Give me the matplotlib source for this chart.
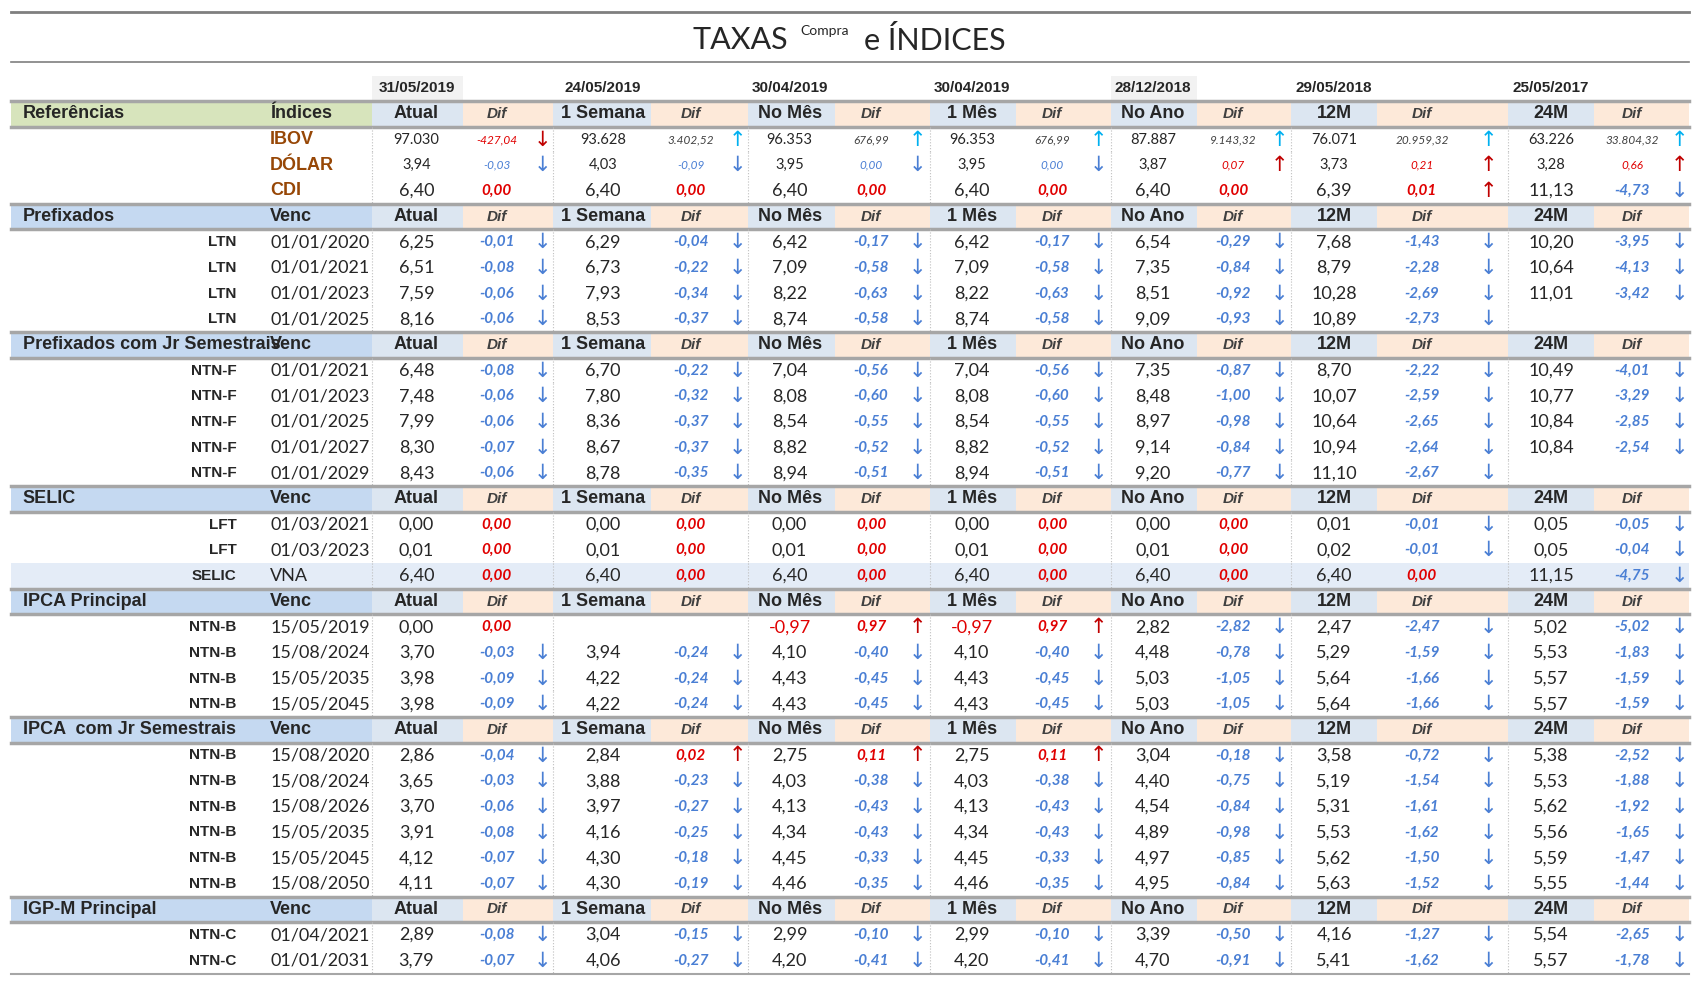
import matplotlib
matplotlib.use('Agg')
import matplotlib.pyplot as plt
from matplotlib.patches import Rectangle

# column headers
dates = ['31/05/2019', '24/05/2019', '30/04/2019', '30/04/2019', '28/12/2018', '29/05/2018', '25/05/2017']
periods = ['Atual', '1 Semana', 'No Mês', '1 Mês', 'No Ano', '12M', '24M']

# reference indices: (name, [(value, dif, arrow)])
ref_rows = [
    ('IBOV', [('97.030', '-427,04', 'd'), ('93.628', '3.402,52', 'u'), ('96.353', '676,99', 'u'),
              ('96.353', '676,99', 'u'), ('87.887', '9.143,32', 'u'), ('76.071', '20.959,32', 'u'),
              ('63.226', '33.804,32', 'u')]),
    ('DÓLAR', [('3,94', '-0,03', 'd'), ('4,03', '-0,09', 'd'), ('3,95', '0,00', 'd'), ('3,95', '0,00', 'd'),
               ('3,87', '0,07', 'u'), ('3,73', '0,21', 'u'), ('3,28', '0,66', 'u')]),
    ('CDI', [('6,40', '0,00', ''), ('6,40', '0,00', ''), ('6,40', '0,00', ''), ('6,40', '0,00', ''),
             ('6,40', '0,00', ''), ('6,39', '0,01', 'u'), ('11,13', '-4,73', 'd')]),
]

# sections: (title, [(papel, venc, "v d v d ...")]) ; '-' marks an empty cell
sections = [
    ('Prefixados', [
        ('LTN', '01/01/2020', '6,25 -0,01 6,29 -0,04 6,42 -0,17 6,42 -0,17 6,54 -0,29 7,68 -1,43 10,20 -3,95'),
        ('LTN', '01/01/2021', '6,51 -0,08 6,73 -0,22 7,09 -0,58 7,09 -0,58 7,35 -0,84 8,79 -2,28 10,64 -4,13'),
        ('LTN', '01/01/2023', '7,59 -0,06 7,93 -0,34 8,22 -0,63 8,22 -0,63 8,51 -0,92 10,28 -2,69 11,01 -3,42'),
        ('LTN', '01/01/2025', '8,16 -0,06 8,53 -0,37 8,74 -0,58 8,74 -0,58 9,09 -0,93 10,89 -2,73 - -'),
    ]),
    ('Prefixados com Jr Semestrais', [
        ('NTN-F', '01/01/2021', '6,48 -0,08 6,70 -0,22 7,04 -0,56 7,04 -0,56 7,35 -0,87 8,70 -2,22 10,49 -4,01'),
        ('NTN-F', '01/01/2023', '7,48 -0,06 7,80 -0,32 8,08 -0,60 8,08 -0,60 8,48 -1,00 10,07 -2,59 10,77 -3,29'),
        ('NTN-F', '01/01/2025', '7,99 -0,06 8,36 -0,37 8,54 -0,55 8,54 -0,55 8,97 -0,98 10,64 -2,65 10,84 -2,85'),
        ('NTN-F', '01/01/2027', '8,30 -0,07 8,67 -0,37 8,82 -0,52 8,82 -0,52 9,14 -0,84 10,94 -2,64 10,84 -2,54'),
        ('NTN-F', '01/01/2029', '8,43 -0,06 8,78 -0,35 8,94 -0,51 8,94 -0,51 9,20 -0,77 11,10 -2,67 - -'),
    ]),
    ('SELIC', [
        ('LFT', '01/03/2021', '0,00 0,00 0,00 0,00 0,00 0,00 0,00 0,00 0,00 0,00 0,01 -0,01 0,05 -0,05'),
        ('LFT', '01/03/2023', '0,01 0,00 0,01 0,00 0,01 0,00 0,01 0,00 0,01 0,00 0,02 -0,01 0,05 -0,04'),
        ('SELIC', 'VNA', '6,40 0,00 6,40 0,00 6,40 0,00 6,40 0,00 6,40 0,00 6,40 0,00 11,15 -4,75'),
    ]),
    ('IPCA Principal', [
        ('NTN-B', '15/05/2019', '0,00 0,00 - - -0,97 0,97 -0,97 0,97 2,82 -2,82 2,47 -2,47 5,02 -5,02'),
        ('NTN-B', '15/08/2024', '3,70 -0,03 3,94 -0,24 4,10 -0,40 4,10 -0,40 4,48 -0,78 5,29 -1,59 5,53 -1,83'),
        ('NTN-B', '15/05/2035', '3,98 -0,09 4,22 -0,24 4,43 -0,45 4,43 -0,45 5,03 -1,05 5,64 -1,66 5,57 -1,59'),
        ('NTN-B', '15/05/2045', '3,98 -0,09 4,22 -0,24 4,43 -0,45 4,43 -0,45 5,03 -1,05 5,64 -1,66 5,57 -1,59'),
    ]),
    ('IPCA  com Jr Semestrais', [
        ('NTN-B', '15/08/2020', '2,86 -0,04 2,84 0,02 2,75 0,11 2,75 0,11 3,04 -0,18 3,58 -0,72 5,38 -2,52'),
        ('NTN-B', '15/08/2024', '3,65 -0,03 3,88 -0,23 4,03 -0,38 4,03 -0,38 4,40 -0,75 5,19 -1,54 5,53 -1,88'),
        ('NTN-B', '15/08/2026', '3,70 -0,06 3,97 -0,27 4,13 -0,43 4,13 -0,43 4,54 -0,84 5,31 -1,61 5,62 -1,92'),
        ('NTN-B', '15/05/2035', '3,91 -0,08 4,16 -0,25 4,34 -0,43 4,34 -0,43 4,89 -0,98 5,53 -1,62 5,56 -1,65'),
        ('NTN-B', '15/05/2045', '4,12 -0,07 4,30 -0,18 4,45 -0,33 4,45 -0,33 4,97 -0,85 5,62 -1,50 5,59 -1,47'),
        ('NTN-B', '15/08/2050', '4,11 -0,07 4,30 -0,19 4,46 -0,35 4,46 -0,35 4,95 -0,84 5,63 -1,52 5,55 -1,44'),
    ]),
    ('IGP-M Principal', [
        ('NTN-C', '01/04/2021', '2,89 -0,08 3,04 -0,15 2,99 -0,10 2,99 -0,10 3,39 -0,50 4,16 -1,27 5,54 -2,65'),
        ('NTN-C', '01/01/2031', '3,79 -0,07 4,06 -0,27 4,20 -0,41 4,20 -0,41 4,70 -0,91 5,41 -1,62 5,57 -1,78'),
    ]),
]

# layout (drawing units: 1560 x 905 canvas)
W, H = 1560, 905
val_x = [384, 556, 728, 896, 1063, 1230, 1430]
dif_x = [458, 637, 803, 970, 1137, 1311, 1505]
arr_x = [500, 680, 846, 1013, 1180, 1372, 1548]
blk_l = [343, 510, 690, 857, 1024, 1190, 1390]
blk_r = blk_l[1:] + [1557]
val_w = [84, 90, 80, 80, 80, 80, 80]
ROW0, DY = 105, 23.65
LEFT = 10

FONT = 'Liberation Sans'
NUMF = 'Lato'
BLUE = '#4a7fd4'
RED = '#e00000'
DARKRED = '#c00000'
CYAN = '#00b0f0'
HEADGRAY = '#262626'

fig = plt.figure(figsize=(16.92, 9.82), dpi=100)
ax = fig.add_axes([0, 0, 1, 1])
ax.set_xlim(0, W)
ax.set_ylim(H, 0)
ax.axis('off')

# title block
ax.plot([LEFT, 1557], [11, 11], color='#7f7f7f', lw=2)
ax.plot([LEFT, 1557], [57, 57], color='#7f7f7f', lw=1.2)
ax.text(683, 37, 'TAXAS', ha='center', va='center', fontsize=22, family=NUMF, color='#262626')
ax.text(760, 29, 'Compra', ha='center', va='center', fontsize=10, family=NUMF, color='#262626')
ax.text(862, 37, 'e ÍNDICES', ha='center', va='center', fontsize=22, family=NUMF, color='#262626')

# date row
for i, d in enumerate(dates):
    if i in (0, 4):
        ax.add_patch(Rectangle((blk_l[i], 70), val_w[i], 22, color='#f2f2f2', lw=0))
    ax.text(val_x[i], 81, d, ha='center', va='center', fontsize=11, family=FONT,
            weight='bold', color=HEADGRAY)


def header_row(y, title, sub, green=False):
    top, bot = y - DY / 2, y + DY / 2
    cell = Rectangle((LEFT, top), 245 - LEFT, DY, transform=ax.transData)
    ax.add_patch(Rectangle((LEFT, top), blk_l[0] - LEFT, DY, color='#d7e4bc' if green else '#c5d9f1', lw=0))
    for i in range(7):
        ax.add_patch(Rectangle((blk_l[i], top), val_w[i], DY, color='#dce6f1', lw=0))
        ax.add_patch(Rectangle((blk_l[i] + val_w[i], top), blk_r[i] - blk_l[i] - val_w[i], DY,
                               color='#fde9d9', lw=0))
        ax.text(val_x[i], y, periods[i], ha='center', va='center', fontsize=13, family=FONT,
                weight='bold', color=HEADGRAY)
        ax.text(dif_x[i], y, 'Dif', ha='center', va='center', fontsize=11, family=FONT,
                weight='bold', style='italic', color='#404040')
    t = ax.text(21, y, title, ha='left', va='center', fontsize=13, family=FONT, weight='bold', color=HEADGRAY)
    t.set_clip_path(cell)
    ax.text(249, y, sub, ha='left', va='center', fontsize=13, family=FONT, weight='bold', color=HEADGRAY)
    ax.plot([LEFT, 1557], [top, top], color='#a6a6a6', lw=2.5)
    ax.plot([LEFT, 1557], [bot, bot], color='#a6a6a6', lw=2.5)


def arrow(x, y, kind, color):
    ax.text(x, y, '↑' if kind == 'u' else '↓', ha='center', va='center', fontsize=15,
            family='DejaVu Sans', color=color)


def vlines(y):
    for xb in blk_l:
        ax.plot([xb, xb], [y - DY / 2, y + DY / 2], color='#bfbfbf', lw=0.8, ls=':')


# references block
header_row(ROW0, 'Referências', 'Índices', green=True)
for r, (name, cells) in enumerate(ref_rows):
    y = ROW0 + (r + 1) * DY
    vlines(y)
    ax.text(249, y, name, ha='left', va='center', fontsize=13, family=FONT, weight='bold', color='#974706')
    small = name != 'CDI'
    for i, (v, d, a) in enumerate(cells):
        ax.text(val_x[i], y, v, ha='center', va='center', fontsize=10.5 if small else 13,
                family=NUMF, color='#262626')
        neg = d.startswith('-')
        if small:
            dc = (RED if neg else '#404040') if name == 'IBOV' else (BLUE if neg or d == '0,00' else RED)
            ax.text(dif_x[i], y, d, ha='center', va='center', fontsize=8.5, family=NUMF,
                    style='italic', color=dc)
        else:
            ax.text(dif_x[i], y, d, ha='center', va='center', fontsize=11, family=NUMF,
                    style='italic', weight='bold', color=BLUE if neg else RED)
        if a:
            if name == 'IBOV':
                ac = DARKRED if a == 'd' else CYAN
            else:
                ac = BLUE if a == 'd' else DARKRED
            arrow(arr_x[i], y, a, ac)

# sections
row = len(ref_rows) + 1
for title, rows in sections:
    header_row(ROW0 + row * DY, title, 'Venc')
    row += 1
    for papel, venc, vals in rows:
        y = ROW0 + row * DY
        if venc == 'VNA':
            ax.add_patch(Rectangle((LEFT, y - DY / 2), 1557 - LEFT, DY, color='#e4ecf7', lw=0))
        vlines(y)
        ax.text(218, y, papel, ha='right', va='center', fontsize=11, family=FONT, weight='bold', color=HEADGRAY)
        ax.text(249, y, venc, ha='left', va='center', fontsize=13, family=NUMF, color='#262626')
        parts = vals.split()
        for i in range(7):
            v, d = parts[2 * i], parts[2 * i + 1]
            if v == '-':
                continue
            ax.text(val_x[i], y, v, ha='center', va='center', fontsize=13, family=NUMF,
                    color=RED if v.startswith('-') else '#262626')
            neg = d.startswith('-')
            ax.text(dif_x[i], y, d, ha='center', va='center', fontsize=11, family=NUMF,
                    style='italic', weight='bold', color=BLUE if neg else RED)
            if d != '0,00':
                arrow(arr_x[i], y, 'd' if neg else 'u', BLUE if neg else DARKRED)
        row += 1

ax.plot([LEFT, 1557], [ROW0 + (row - 0.5) * DY, ROW0 + (row - 0.5) * DY], color='#a6a6a6', lw=1.5)

fig.savefig('out.png', dpi=100)
